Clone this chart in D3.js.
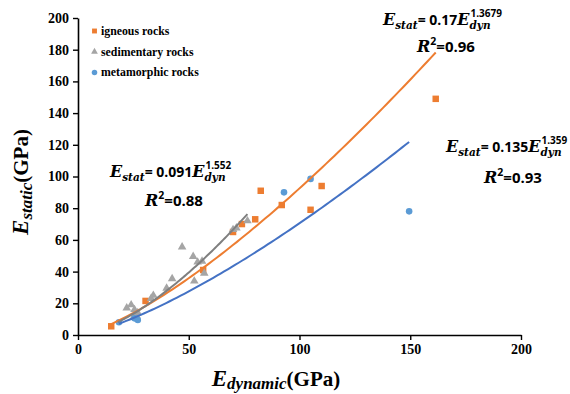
<!DOCTYPE html>
<html>
<head>
<meta charset="utf-8">
<script src="https://cdn.jsdelivr.net/npm/d3@7/dist/d3.min.js"></script>
<style>
  html, body { margin: 0; padding: 0; background: #fff; }
  svg { display: block; }
  .tick text { font-family: "Liberation Serif", "Times New Roman", serif; font-weight: bold; font-size: 14px; fill: #000; }
</style>
</head>
<body>
<svg id="chart" width="570" height="394"></svg>
<script>
// Static vs dynamic elastic modulus by rock group (GPa)
const xTicks = [0, 50, 100, 150, 200];
const yTicks = [0, 20, 40, 60, 80, 100, 120, 140, 160, 180, 200];

const igneousDyn  = [15, 30.5, 56.5, 70, 74, 80, 82.5, 92, 105, 110, 161.5];
const igneousStat = [5.5, 21.5, 41, 65, 70, 73, 91, 82, 79, 94, 149];

const sedimentaryDyn  = [22, 24, 25.5, 27, 25, 26.5, 33, 34, 40, 42.5, 47, 52, 52.5, 54, 56, 57, 70, 71.5, 76.5];
const sedimentaryStat = [17, 19, 16, 14, 11, 12, 23, 25, 29.5, 35.5, 55.5, 49.5, 34, 46, 46.5, 39, 66.5, 67.5, 72];

const metamorphicDyn  = [18.5, 25.5, 27, 93, 105, 149.5];
const metamorphicStat = [8, 10.5, 9.5, 90, 98.5, 78];

// Power-law fits E_stat = a * E_dyn^b and the E_dyn span each fit covers
const fitCoef  = { igneous: [0.17, 1.3679], sedimentary: [0.091, 1.552], metamorphic: [0.135, 1.359] };
const fitRange = { igneous: [15, 161.5], sedimentary: [18, 76.5], metamorphic: [18.5, 149.5] };

const W = 570, H = 394;
const margin = { top: 18, right: 49, bottom: 59, left: 78 };

const svg = d3.select("#chart");
const x = d3.scaleLinear().domain([0, 200]).range([margin.left, W - margin.right]);
const y = d3.scaleLinear().domain([0, 200]).range([H - margin.bottom, margin.top]);

// Axes
const xAxis = svg.append("g")
  .attr("transform", `translate(0,${y(0)})`)
  .call(d3.axisBottom(x).tickValues(xTicks).tickSize(5).tickSizeOuter(0).tickPadding(4));
const yAxis = svg.append("g")
  .attr("transform", `translate(${x(0)},0)`)
  .call(d3.axisLeft(y).tickValues(yTicks).tickSize(5).tickSizeOuter(0).tickPadding(4));
[xAxis, yAxis].forEach(a => {
  a.select(".domain").attr("stroke", "#000").attr("stroke-width", 1.6);
  a.selectAll(".tick line").attr("stroke", "#000").attr("stroke-width", 1.4);
});

// Series definitions
const series = [
  { key: "igneous", name: "igneous rocks", dyn: igneousDyn, stat: igneousStat,
    color: "#ED7D31", line: "#ED7D31", symbol: d3.symbolSquare, size: 42 },
  { key: "sedimentary", name: "sedimentary rocks", dyn: sedimentaryDyn, stat: sedimentaryStat,
    color: "#A5A5A5", line: "#7F7F7F", symbol: d3.symbolTriangle, size: 32 },
  { key: "metamorphic", name: "metamorphic rocks", dyn: metamorphicDyn, stat: metamorphicStat,
    color: "#5B9BD5", line: "#4472C4", symbol: d3.symbolCircle, size: 34 }
];

// Markers
series.forEach(s => {
  const pts = s.dyn.map((d, i) => [d, s.stat[i]]);
  svg.append("g").selectAll("path").data(pts).join("path")
    .attr("transform", d => `translate(${x(d[0])},${y(d[1])})`)
    .attr("d", d3.symbol().type(s.symbol).size(s.size))
    .attr("fill", s.color);
});

// Trend curves
const line = d3.line().x(d => x(d[0])).y(d => y(d[1]));
series.forEach(s => {
  const [a, b] = fitCoef[s.key];
  const [lo, hi] = fitRange[s.key];
  const n = 80;
  const pts = d3.range(n + 1).map(i => {
    const v = lo + (hi - lo) * i / n;
    return [v, a * Math.pow(v, b)];
  });
  svg.append("path").datum(pts)
    .attr("d", line)
    .attr("fill", "none")
    .attr("stroke", s.line)
    .attr("stroke-width", 2);
});

// Legend
const legend = svg.append("g");
series.forEach((s, i) => {
  const ly = 31 + i * 20.7;
  legend.append("path")
    .attr("transform", `translate(94.5,${ly})`)
    .attr("d", d3.symbol().type(s.symbol).size(s.key === "sedimentary" ? 20 : 24))
    .attr("fill", s.color);
  legend.append("text")
    .attr("x", 101).attr("y", ly + 4)
    .attr("font-family", "Liberation Serif, Times New Roman, serif")
    .attr("font-weight", "bold").attr("font-size", 11.8)
    .text(s.name);
});

// Equation annotations
const mathFont = "DejaVu Serif, serif";
const numFont = "Open Sans, sans-serif";

function equation(xp, yp, coef, expo) {
  const t = svg.append("text").attr("x", xp).attr("y", yp)
    .attr("font-weight", "bold").attr("font-size", 14);
  t.append("tspan").attr("font-family", mathFont).attr("font-style", "italic").attr("font-size", 16).text("E");
  t.append("tspan").attr("font-family", mathFont).attr("font-style", "italic").attr("font-size", 10.5)
    .attr("dy", 4).text("stat");
  t.append("tspan").attr("font-family", numFont).attr("dy", -4).text("= " + coef);
  t.append("tspan").attr("font-family", mathFont).attr("font-style", "italic").attr("font-size", 16).text("E");
  const sub = t.append("tspan").attr("font-family", mathFont).attr("font-style", "italic").attr("font-size", 10.5)
    .attr("dy", 4).text("dyn");
  // exponent stacked above the subscript, within the same text element
  const w = sub.node().getComputedTextLength();
  t.append("tspan").attr("font-family", numFont).attr("font-size", 10)
    .attr("dx", -w + 1).attr("dy", -12).text(expo);
}
function rsq(xp, yp, val) {
  const t = svg.append("text").attr("x", xp).attr("y", yp)
    .attr("font-weight", "bold").attr("font-size", 15);
  t.append("tspan").attr("font-family", mathFont).attr("font-style", "italic").attr("font-size", 16).text("R");
  t.append("tspan").attr("font-family", numFont).attr("font-size", 10.5).attr("dy", -7).text("2");
  t.append("tspan").attr("font-family", numFont).attr("dy", 7).text("=" + val);
}

equation(110, 177, "0.091", "1.552");
rsq(145, 206, "0.88");
equation(383, 25, "0.17", "1.3679");
rsq(417, 52, "0.96");
equation(446, 152, "0.135", "1.359");
rsq(484, 183, "0.93");

// Axis titles
const xt = svg.append("text")
  .attr("x", 276).attr("y", 386)
  .attr("text-anchor", "middle").attr("font-weight", "bold");
xt.append("tspan").attr("font-family", "Liberation Serif, serif").attr("font-style", "italic").attr("font-size", 23).text("E");
xt.append("tspan").attr("font-family", "Liberation Serif, serif").attr("font-style", "italic").attr("font-size", 17).attr("dy", 3).text("dynamic");
xt.append("tspan").attr("font-family", "Liberation Serif, serif").attr("font-size", 21).attr("dy", -3).text("(GPa)");

const yt = svg.append("text")
  .attr("transform", `translate(28,182) rotate(-90)`)
  .attr("text-anchor", "middle").attr("font-weight", "bold");
yt.append("tspan").attr("font-family", "Liberation Serif, serif").attr("font-style", "italic").attr("font-size", 23).text("E");
yt.append("tspan").attr("font-family", "Liberation Serif, serif").attr("font-style", "italic").attr("font-size", 17).attr("dy", 4).text("static");
yt.append("tspan").attr("font-family", "Liberation Serif, serif").attr("font-size", 21).attr("dy", -4).text("(GPa)");
</script>
</body>
</html>
